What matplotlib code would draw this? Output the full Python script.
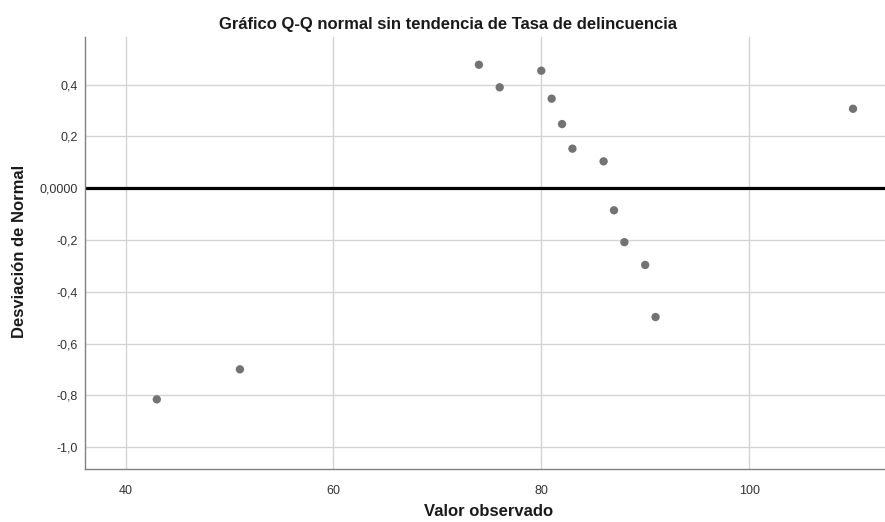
import matplotlib
matplotlib.use('Agg')
import matplotlib.pyplot as plt

# Detrended normal Q-Q: observed value vs deviation from normal
observed = [43, 51, 74, 76, 80, 81, 82, 83, 86, 87, 88, 90, 91, 110]
deviation = [-0.815, -0.699, 0.477, 0.390, 0.454, 0.346, 0.248, 0.153,
             0.104, -0.085, -0.208, -0.296, -0.497, 0.307]

x_ticks = [40, 60, 80, 100]
x_ticklabels = ['40', '60', '80', '100']
y_ticks = [0.4, 0.2, 0.0, -0.2, -0.4, -0.6, -0.8, -1.0]
y_ticklabels = ['0,4', '0,2', '0,0000', '-0,2', '-0,4', '-0,6', '-0,8', '-1,0']

plt.rcParams['font.family'] = ['Liberation Sans', 'DejaVu Sans']

fig = plt.figure(figsize=(8.85, 5.22), dpi=100)
ax = fig.add_axes([85 / 885, 1 - 469.3 / 522, 800 / 885, (469.3 - 37.3) / 522])

ax.set_xlim(36.09, 113.08)
ax.set_ylim(-1.085, 0.583)

ax.set_xticks(x_ticks)
ax.set_xticklabels(x_ticklabels)
ax.set_yticks(y_ticks)
ax.set_yticklabels(y_ticklabels)
ax.tick_params(length=0, labelsize=9, colors='#333333', pad=5)
ax.tick_params(axis='x', pad=11)

ax.grid(True, color='#d4d4d4', linewidth=1.0)
ax.set_axisbelow(True)

for side in ['top', 'right']:
    ax.spines[side].set_visible(False)
for side in ['left', 'bottom']:
    ax.spines[side].set_color('#808080')
    ax.spines[side].set_linewidth(1.0)

ax.axhline(0.0, color='black', linewidth=2.3, zorder=2)
ax.scatter(observed, deviation, s=36, color='#737373', edgecolors='none', zorder=3)

fig.text(448 / 885, 1 - 25 / 522, 'Gráfico Q-Q normal sin tendencia de Tasa de delincuencia',
         ha='center', va='center', fontsize=12, fontweight='bold', color='#1a1a1a')
fig.text(489 / 885, 1 - 512 / 522, 'Valor observado',
         ha='center', va='center', fontsize=12, fontweight='bold', color='#1a1a1a')
fig.text(20 / 885, 1 - 251 / 522, 'Desviación de Normal', rotation=90,
         ha='center', va='center', fontsize=12, fontweight='bold', color='#1a1a1a')

fig.savefig('out.png', dpi=100)
